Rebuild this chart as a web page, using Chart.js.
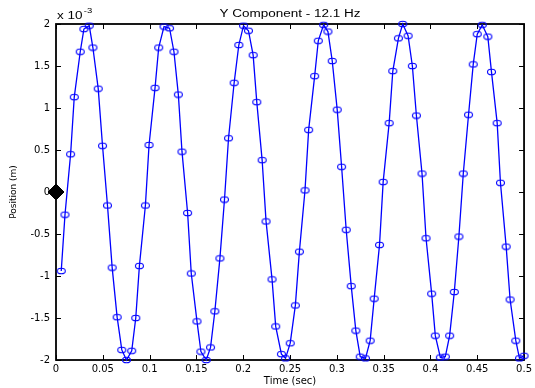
<!DOCTYPE html>
<html>
<head>
<meta charset="utf-8">
<script src="https://cdn.jsdelivr.net/npm/chart.js@4"></script>
<style>
  html, body { margin: 0; padding: 0; background: #fff; }
  #wrap { width: 535px; height: 388px; }
</style>
</head>
<body>
<div id="wrap"><canvas id="chart"></canvas></div>
<script>
// values, position in units of 1e-3 m
const time = [
    0.0056, 0.0096, 0.0156, 0.0195, 0.0259, 0.0298, 0.0355, 0.0394, 0.0451, 0.0497,
    0.0550, 0.0600, 0.0653, 0.0703, 0.0753, 0.0809, 0.0852, 0.0891, 0.0955, 0.0994,
    0.1058, 0.1097, 0.1154, 0.1213, 0.1260, 0.1307, 0.1346, 0.1406, 0.1445, 0.1506,
    0.1548, 0.1605, 0.1651, 0.1697, 0.1751, 0.1800, 0.1843, 0.1903, 0.1953, 0.2003,
    0.2056, 0.2106, 0.2145, 0.2202, 0.2244, 0.2308, 0.2347, 0.2408, 0.2452, 0.2502,
    0.2557, 0.2600, 0.2660, 0.2699, 0.2763, 0.2802, 0.2859, 0.2905, 0.2951, 0.3004,
    0.3051, 0.3100, 0.3154, 0.3203, 0.3250, 0.3306, 0.3356, 0.3399, 0.3456, 0.3495,
    0.3559, 0.3598, 0.3658, 0.3704, 0.3761, 0.3807, 0.3850, 0.3910, 0.3953, 0.4013,
    0.4052, 0.4106, 0.4159, 0.4205, 0.4255, 0.4304, 0.4351, 0.4407, 0.4457, 0.4500,
    0.4553, 0.4613, 0.4652, 0.4713, 0.4748, 0.4809, 0.4851, 0.4912, 0.4951, 0.5000
];
const position = [
    -0.94, -0.27, 0.45, 1.13, 1.67, 1.94, 1.98, 1.72, 1.23, 0.55,
    -0.16, -0.90, -1.49, -1.88, -2.00, -1.89, -1.50, -0.88, -0.16, 0.56,
    1.24, 1.72, 1.97, 1.95, 1.67, 1.16, 0.48, -0.25, -0.97, -1.54,
    -1.90, -2.00, -1.85, -1.42, -0.79, -0.09, 0.64, 1.30, 1.75, 1.98,
    1.92, 1.63, 1.07, 0.38, -0.35, -1.04, -1.60, -1.93, -1.98, -1.80,
    -1.35, -0.71, 0.02, 0.74, 1.38, 1.80, 1.99, 1.91, 1.56, 0.98,
    0.30, -0.45, -1.12, -1.65, -1.96, -1.98, -1.77, -1.27, -0.63, 0.12,
    0.82, 1.44, 1.83, 2.00, 1.86, 1.50, 0.91, 0.22, -0.55, -1.21,
    -1.71, -1.97, -1.96, -1.71, -1.19, -0.53, 0.22, 0.92, 1.52, 1.88,
    1.99, 1.85, 1.43, 0.82, 0.11, -0.65, -1.28, -1.77, -1.98, -1.95
];
const startTime = [0];
const startPosition = [0];

const xTicks = [0, 0.05, 0.1, 0.15, 0.2, 0.25, 0.3, 0.35, 0.4, 0.45, 0.5];
const xTickLabels = ['0', '0.05', '0.1', '0.15', '0.2', '0.25', '0.3', '0.35', '0.4', '0.45', '0.5'];
const yTicks = [-2, -1.5, -1, -0.5, 0, 0.5, 1, 1.5, 2];
const yTickLabels = ['-2', '-1.5', '-1', '-0.5', '0', '0.5', '1', '1.5', '2'];

const chartTitle = 'Y Component - 12.1 Hz';
const xTitle = 'Time (sec)';
const yTitle = 'Position (m)';

// -------------- ellipse marker --------------

function ellipseMarker() {
    const c = document.createElement('canvas');
    c.width = 11;
    c.height = 8;
    const g = c.getContext('2d');
    g.strokeStyle = '#0000ff';
    g.lineWidth = 1.1;
    g.beginPath();
    g.ellipse(5.5, 4, 4, 2.8, 0, 0, Math.PI * 2);
    g.stroke();
    return c;
}

// -------------- matlab style frame --------------

const matlabFrame = {
    id: 'matlabFrame',
    beforeDatasetsDraw(chart) {
        const { ctx, chartArea: a, scales } = chart;
        const len = 5;
        ctx.save();
        ctx.strokeStyle = '#000';
        ctx.lineWidth = 1;

        scales.x.ticks.forEach(t => {
            const px = Math.round(scales.x.getPixelForValue(t.value)) + 0.5;
            ctx.beginPath();
            ctx.moveTo(px, a.bottom); ctx.lineTo(px, a.bottom - len);
            ctx.moveTo(px, a.top); ctx.lineTo(px, a.top + len);
            ctx.stroke();
        });
        scales.y.ticks.forEach(t => {
            const py = Math.round(scales.y.getPixelForValue(t.value)) + 0.5;
            ctx.beginPath();
            ctx.moveTo(a.left, py); ctx.lineTo(a.left + len, py);
            ctx.moveTo(a.right, py); ctx.lineTo(a.right - len, py);
            ctx.stroke();
        });

        ctx.lineWidth = 1.8;
        ctx.strokeRect(a.left, a.top, a.right - a.left, a.bottom - a.top);
        ctx.restore();
    },
    afterDraw(chart) {
        const { ctx, chartArea: a } = chart;
        const sx = 1.35;
        ctx.save();
        ctx.fillStyle = '#000';
        ctx.textBaseline = 'alphabetic';

        // title, centred over the plot
        ctx.font = '10px "Liberation Sans", Arial, sans-serif';
        const w = ctx.measureText(chartTitle).width * sx;
        ctx.save();
        ctx.translate((a.left + a.right) / 2 - w / 2, 17);
        ctx.scale(sx, 1);
        ctx.fillText(chartTitle, 0, 0);
        ctx.restore();

        // exponent note
        ctx.save();
        ctx.translate(a.left + 1, 19);
        ctx.scale(sx, 1);
        ctx.fillText('x 10', 0, 0);
        const bw = ctx.measureText('x 10').width;
        ctx.font = '7px "Liberation Sans", Arial, sans-serif';
        ctx.fillText('-3', bw + 1, -6);
        ctx.restore();

        ctx.restore();
    }
};

// -------------- chart --------------

const tickFont = { family: '"DejaVu Sans", sans-serif', size: 10 };

new Chart(document.getElementById('chart'), {
    type: 'scatter',
    data: {
        datasets: [
            {
                label: 'start',
                data: startTime.map((t, i) => ({ x: t, y: startPosition[i] })),
                pointStyle: 'rectRot',
                pointRadius: 8,
                backgroundColor: '#000',
                borderColor: '#000',
                borderWidth: 1,
                showLine: false,
                clip: false,
                order: 0
            },
            {
                label: 'Y',
                data: time.map((t, i) => ({ x: t, y: position[i] })),
                showLine: true,
                borderColor: '#0000ff',
                borderWidth: 1.3,
                pointStyle: ellipseMarker(),
                pointRadius: 4,
                backgroundColor: 'transparent',
                tension: 0,
                clip: false,
                order: 1
            }
        ]
    },
    options: {
        responsive: true,
        maintainAspectRatio: false,
        animation: false,
        devicePixelRatio: 1,
        layout: { padding: { top: 24, right: 10, left: 0, bottom: 0 } },
        plugins: {
            legend: { display: false },
            tooltip: { enabled: false }
        },
        scales: {
            x: {
                type: 'linear',
                min: 0,
                max: 0.5,
                afterFit: s => { s.height = 28; },
                afterBuildTicks: s => { s.ticks = xTicks.map(v => ({ value: v })); },
                grid: { display: false, drawTicks: false },
                border: { display: false },
                ticks: {
                    color: '#000',
                    font: tickFont,
                    padding: 3,
                    maxRotation: 0,
                    autoSkip: false,
                    callback: (v, i) => xTickLabels[i]
                },
                title: {
                    display: true,
                    text: xTitle,
                    color: '#000',
                    font: tickFont,
                    padding: { top: 0, bottom: 1 }
                }
            },
            y: {
                type: 'linear',
                min: -2,
                max: 2,
                afterFit: s => { s.width = 56; },
                afterBuildTicks: s => { s.ticks = yTicks.map(v => ({ value: v })); },
                grid: { display: false, drawTicks: false },
                border: { display: false },
                ticks: {
                    color: '#000',
                    font: tickFont,
                    padding: 6,
                    autoSkip: false,
                    callback: (v, i) => yTickLabels[i]
                },
                title: {
                    display: true,
                    text: yTitle,
                    color: '#000',
                    font: { family: '"DejaVu Sans", sans-serif', size: 9 },
                    padding: { top: 8, bottom: 0 }
                }
            }
        }
    },
    plugins: [matlabFrame]
});
</script>
</body>
</html>
